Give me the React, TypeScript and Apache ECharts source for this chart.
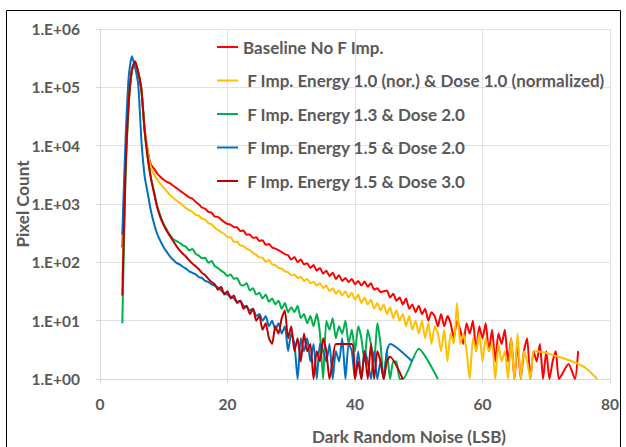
import React, { useEffect, useRef } from "react";
import * as echarts from "echarts";

// Histogram bins: first bin centre and bin width (LSB)
const binStart = 3.5;
const binWidth = 0.5;

const seriesNames = [
  "Baseline No F Imp.",
  " F Imp. Energy 1.0 (nor.) & Dose 1.0 (normalized)",
  " F Imp. Energy 1.3 & Dose 2.0",
  " F Imp. Energy 1.5 & Dose 2.0",
  " F Imp. Energy 1.5 & Dose 3.0",
];

const seriesColors = ["#FF0000", "#FFC000", "#00B050", "#0070C0", "#C00000"];

// Pixel counts per bin (null = empty bin)
const baseline = [
  180, 6000, 60000, 200000, 275000, 180000, 90000, 20000, 8000, 4700,
  4000, 3300, 2900, 2600, 2400, 2250, 2050, 1870, 1700, 1560,
  1420, 1300, 1230, 1090, 990, 870, 830, 730, 710, 610,
  600, 540, 490, 455, 440, 400, 398, 345, 350, 298,
  300, 262, 268, 232, 240, 200, 206, 180, 172, 162,
  150, 138, 132, 112, 124, 100, 112, 92, 96, 80,
  90, 72, 80, 64, 72, 58, 66, 52, 60, 48,
  54, 46, 52, 42, 48, 40, 47, 38, 44, 34,
  36, 31, 32, 33, 25, 29, 22, 25, 19, 24,
  16, 19, 14, 18, 13, 16, 10, 14, 12, 8,
  13, 8, 12, 9, 5, 10, 7, 4, 9, 6,
  10, 3, 8, 5, 9, 3, 7, 2, 6, 4,
  7, 2, 5, 1, 4, 1, 3, 5, 1, 3,
  2, 4, 1, 3, 1, 2, 3, 1, null, null,
  1.8, null, 1, 3,
];

const energy10 = [
  50, 4000, 50000, 190000, 270000, 180000, 90000, 19000, 7500, 4200,
  3200, 2600, 2200, 1900, 1650, 1420, 1280, 1150, 1050, 950,
  850, 780, 730, 650, 630, 560, 540, 470, 450, 390,
  360, 330, 305, 270, 270, 225, 225, 195, 190, 170,
  162, 145, 134, 122, 120, 102, 110, 92, 90, 80,
  78, 70, 68, 60, 62, 54, 56, 48, 52, 44,
  46, 40, 44, 36, 40, 32, 36, 29, 33, 27,
  32, 25, 30, 23, 28, 20, 25, 19, 23, 16,
  20, 15, 19, 13, 17, 11, 15, 10, 13, 8,
  12, 7, 10, 6, 10, 5, 9, 4, 8, 6,
  3, 7, 2, 6, 4, 20, 4, 6, 3, 1,
  5, 3, 6, 2, 5, 3, 4, 1, 4, 2,
  3, 1, 5, 1, 6, 1, 3, 2, 1, 3,
  3, null, null, null, null, null, null, null, null, 2.2,
  null, null, null, null, null, 1.6, null, null, null, 1,
];

const energy13 = [
  9, 3000, 50000, 190000, 270000, 180000, 90000, 18000, 6000, 2800,
  1600, 900, 620, 450, 360, 290, 250, 230, 215, 195,
  185, 160, 170, 140, 130, 118, 120, 98, 105, 86,
  80, 72, 66, 58, 62, 52, 54, 42, 40, 44,
  33, 36, 28, 30, 24, 28, 21, 24, 19, 22,
  16, 20, 14, 17, 14, 18, 11, 13, 9, 12,
  8, 13, 6, 1, 10, 7, 11, 5, 8, 6,
  10, 4, 7, 3, 8, 5, 2, 7, 4, 2,
  9, 4, 1, 3, 1, 2, 2, 1, 1, null,
  null, null, null, 3.3, null, null, null, null, null, 1,
];

const energy15Dose2 = [
  300, 12000, 150000, 340000, 220000, 110000, 12000, 3000, 1500, 750,
  450, 300, 230, 180, 150, 125, 110, 98, 92, 84,
  78, 70, 66, 62, 56, 54, 48, 46, 42, 40,
  37, 33, 30, 28, 26, 24, 21, 22, 18, 17,
  15, 16, 12, 13, 10, 12, 8, 10, 7, 9,
  6, 8, 3, 6, 4, 1, 5, 3, 5, 2,
  4, 1, 4, 3, 2, 4, 1, 3, 2, 5,
  1, 4, 3, 1, 3, 1, 3, 2, 1, 3,
  1, 2, 1, 3, 4, null, null, null, null, null,
  null, 2,
];

const energy15Dose3 = [
  27, 3500, 55000, 200000, 280000, 180000, 90000, 18000, 6000, 2700,
  1500, 850, 580, 430, 340, 280, 230, 190, 160, 140,
  125, 108, 95, 86, 76, 66, 60, 52, 46, 42,
  34, 38, 28, 32, 24, 27, 20, 22, 16, 18,
  13, 16, 10, 12, 7, 9, 5, 4, 8, 6,
  11, 15, 5, 8, 3, 5, 2, 6, 3, 4,
  1, 3, 2, 5, 3, 1, 2, 4, null, null,
  null, null, 4, 1, 2, 1, 3, 1, 4, 1,
  3, 2, 1, 2, 2.4, null, null, null, 1,
];

const seriesCounts = [baseline, energy10, energy13, energy15Dose2, energy15Dose3];

const xTicks = [0, 20, 40, 60, 80];
const yExponents = [0, 1, 2, 3, 4, 5, 6];

const FONT = "Lato, 'Open Sans', sans-serif";
const GREY = "#595959";

export default function App() {
  const ref = useRef<HTMLDivElement>(null);

  useEffect(() => {
    if (!ref.current) return;
    const chart = echarts.init(ref.current, undefined, { renderer: "svg" });

    const series = seriesCounts.map((counts, k) => ({
      name: seriesNames[k],
      type: "line",
      data: counts
        .map((c, i) => [binStart + i * binWidth, c])
        .filter((p) => p[1] !== null),
      showSymbol: false,
      symbol: "none",
      smooth: 0.2,
      lineStyle: { width: 2, color: seriesColors[k] },
      itemStyle: { color: seriesColors[k] },
      clip: true,
    }));

    chart.setOption({
      animation: false,
      textStyle: { fontFamily: FONT },
      grid: {
        left: 100,
        right: 16,
        top: 29,
        bottom: 68,
        containLabel: false,
        outerBoundsMode: "none",
      },
      graphic: [
        {
          type: "rect",
          shape: { x: 6.5, y: 10.5, width: 614, height: 460 },
          style: { fill: "none", stroke: "#000", lineWidth: 1 },
          silent: true,
        },
      ],
      legend: {
        orient: "vertical",
        left: 212,
        top: 33,
        itemGap: 15.5,
        itemWidth: 21,
        itemHeight: 2,
        icon: "rect",
        data: seriesNames,
        textStyle: {
          fontFamily: FONT,
          fontSize: 17,
          fontWeight: "bold",
          color: GREY,
          lineHeight: 18,
        },
      },
      xAxis: {
        type: "value",
        min: xTicks[0],
        max: xTicks[xTicks.length - 1],
        interval: xTicks[1] - xTicks[0],
        name: "Dark Random Noise (LSB)",
        nameLocation: "middle",
        nameGap: 49,
        nameMoveOverlap: false,
        nameTextStyle: {
          fontFamily: FONT,
          fontSize: 17,
          fontWeight: "bold",
          color: GREY,
          padding: [0, 0, 0, 108],
        },
        axisLine: { show: true, lineStyle: { color: "#d9d9d9", width: 1 } },
        axisTick: { show: true, length: 4, lineStyle: { color: "#d9d9d9" } },
        splitLine: { show: true, lineStyle: { color: "#e3e3e3", width: 1 } },
        axisLabel: {
          margin: 17,
          fontFamily: FONT,
          fontSize: 15.5,
          fontWeight: "bold",
          color: GREY,
        },
      },
      yAxis: {
        type: "log",
        logBase: 10,
        min: Math.pow(10, yExponents[0]),
        max: Math.pow(10, yExponents[yExponents.length - 1]),
        name: "Pixel Count",
        nameLocation: "middle",
        nameGap: 69.5,
        nameMoveOverlap: false,
        nameTextStyle: {
          fontFamily: FONT,
          fontSize: 17,
          fontWeight: "bold",
          color: GREY,
        },
        axisLine: { show: true, lineStyle: { color: "#d9d9d9", width: 1 } },
        axisTick: { show: true, length: 4, lineStyle: { color: "#d9d9d9" } },
        splitLine: { show: true, lineStyle: { color: "#e3e3e3", width: 1 } },
        minorTick: { show: false },
        axisLabel: {
          margin: 20,
          fontFamily: FONT,
          fontSize: 15.5,
          fontWeight: "bold",
          color: GREY,
          formatter: (v: number) => {
            const e = Math.round(Math.log10(v));
            return "1.E+" + String(e).padStart(2, "0");
          },
        },
      },
      series,
    });

    return () => chart.dispose();
  }, []);

  return (
    <div
      ref={ref}
      style={{ position: "fixed", left: 0, top: 0, width: 626, height: 447, background: "#fff" }}
    />
  );
}
